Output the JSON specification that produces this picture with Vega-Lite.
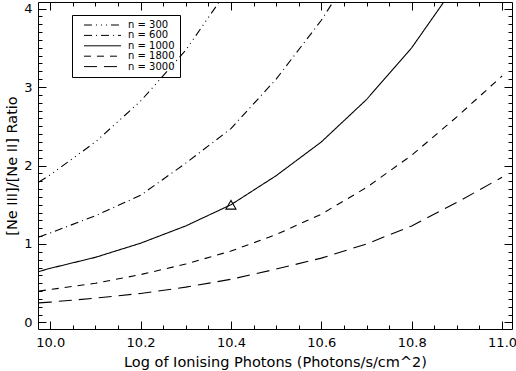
{
  "$schema": "https://vega.github.io/schema/vega-lite/v6.json",
  "width": 474,
  "height": 327,
  "autosize": "none",
  "padding": {"left": 38, "top": 2, "right": 4, "bottom": 42},
  "background": "white",
  "config": {
    "view": {"stroke": "black", "strokeWidth": 1},
    "font": "DejaVu Sans",
    "axis": {"grid": false, "domain": false, "labelColor": "black", "titleColor": "black", "tickColor": "black", "labelFont": "DejaVu Sans", "titleFont": "DejaVu Sans", "titleFontWeight": "normal", "labelFontSize": 13, "titleFontSize": 14.5, "tickWidth": 1},
    "legend": {"orient": "none", "legendX": 34, "legendY": 13, "strokeColor": "black", "padding": 5, "symbolOffset": 0, "symbolType": "M0.44,0H8.67", "symbolSize": 81, "symbolStrokeWidth": 1, "symbolStrokeColor": "black", "labelFont": "DejaVu Sans", "labelFontSize": 10, "labelColor": "black", "labelOffset": 41, "rowPadding": 0.4, "title": null}
  },
  "datasets": {
    "curves": [
      {"series": "n = 300", "x": 9.975, "y": 1.79},
      {"series": "n = 300", "x": 10.0, "y": 1.88},
      {"series": "n = 300", "x": 10.1, "y": 2.30},
      {"series": "n = 300", "x": 10.2, "y": 2.82},
      {"series": "n = 300", "x": 10.3, "y": 3.47},
      {"series": "n = 300", "x": 10.4, "y": 4.30},
      {"series": "n = 300", "x": 10.5, "y": 5.30},
      {"series": "n = 600", "x": 9.975, "y": 1.09},
      {"series": "n = 600", "x": 10.0, "y": 1.14},
      {"series": "n = 600", "x": 10.1, "y": 1.36},
      {"series": "n = 600", "x": 10.2, "y": 1.62},
      {"series": "n = 600", "x": 10.3, "y": 2.03},
      {"series": "n = 600", "x": 10.4, "y": 2.47},
      {"series": "n = 600", "x": 10.5, "y": 3.10},
      {"series": "n = 600", "x": 10.6, "y": 3.85},
      {"series": "n = 600", "x": 10.7, "y": 4.75},
      {"series": "n = 1000", "x": 9.975, "y": 0.65},
      {"series": "n = 1000", "x": 10.0, "y": 0.69},
      {"series": "n = 1000", "x": 10.1, "y": 0.83},
      {"series": "n = 1000", "x": 10.2, "y": 1.01},
      {"series": "n = 1000", "x": 10.3, "y": 1.23},
      {"series": "n = 1000", "x": 10.4, "y": 1.50},
      {"series": "n = 1000", "x": 10.5, "y": 1.87},
      {"series": "n = 1000", "x": 10.6, "y": 2.30},
      {"series": "n = 1000", "x": 10.7, "y": 2.84},
      {"series": "n = 1000", "x": 10.8, "y": 3.50},
      {"series": "n = 1000", "x": 10.9, "y": 4.32},
      {"series": "n = 1000", "x": 11.0, "y": 5.30},
      {"series": "n = 1800", "x": 9.975, "y": 0.40},
      {"series": "n = 1800", "x": 10.0, "y": 0.42},
      {"series": "n = 1800", "x": 10.1, "y": 0.50},
      {"series": "n = 1800", "x": 10.2, "y": 0.61},
      {"series": "n = 1800", "x": 10.3, "y": 0.745},
      {"series": "n = 1800", "x": 10.4, "y": 0.91},
      {"series": "n = 1800", "x": 10.5, "y": 1.12},
      {"series": "n = 1800", "x": 10.6, "y": 1.38},
      {"series": "n = 1800", "x": 10.7, "y": 1.72},
      {"series": "n = 1800", "x": 10.8, "y": 2.13},
      {"series": "n = 1800", "x": 10.9, "y": 2.62},
      {"series": "n = 1800", "x": 11.0, "y": 3.14},
      {"series": "n = 3000", "x": 9.975, "y": 0.25},
      {"series": "n = 3000", "x": 10.0, "y": 0.26},
      {"series": "n = 3000", "x": 10.1, "y": 0.31},
      {"series": "n = 3000", "x": 10.2, "y": 0.37},
      {"series": "n = 3000", "x": 10.3, "y": 0.45},
      {"series": "n = 3000", "x": 10.4, "y": 0.55},
      {"series": "n = 3000", "x": 10.5, "y": 0.68},
      {"series": "n = 3000", "x": 10.6, "y": 0.82},
      {"series": "n = 3000", "x": 10.7, "y": 1.00},
      {"series": "n = 3000", "x": 10.8, "y": 1.23},
      {"series": "n = 3000", "x": 10.9, "y": 1.53},
      {"series": "n = 3000", "x": 11.0, "y": 1.85}
    ],
    "marker": [{"x": 10.4, "y": 1.5}]
  },
  "layer": [
    {
      "data": {"name": "curves"},
      "mark": {"type": "line", "clip": true, "color": "black", "strokeWidth": 1.1},
      "encoding": {
        "x": {"field": "x", "type": "quantitative", "scale": {"domain": [9.973, 11.022], "nice": false, "zero": false},
          "axis": {"orient": "bottom", "values": [10.0, 10.2, 10.4, 10.6, 10.8, 11.0], "format": ".1f", "ticks": false, "labelPadding": 7, "title": "Log of Ionising Photons (Photons/s/cm^2)", "titlePadding": 6}},
        "y": {"field": "y", "type": "quantitative", "scale": {"domain": [-0.083, 4.083], "nice": false, "zero": false},
          "axis": {"orient": "left", "values": [0, 1, 2, 3, 4], "format": "d", "ticks": false, "labelPadding": 6, "title": "[Ne III]/[Ne II] Ratio", "titlePadding": 4}},
        "strokeDash": {"field": "series", "type": "nominal",
          "scale": {"domain": ["n = 300", "n = 600", "n = 1000", "n = 1800", "n = 3000"],
                    "range": [[8, 4, 1, 4, 1, 4, 1, 4], [8, 4, 1, 4], [1, 0], [7, 6], [13, 7]]},
          "legend": {}}
      }
    },
    {
      "data": {"name": "marker"},
      "mark": {"type": "point", "shape": "triangle-up", "filled": false, "color": "black", "size": 100, "strokeWidth": 1.1, "opacity": 1},
      "encoding": {
        "x": {"field": "x", "type": "quantitative", "axis": {"orient": "bottom", "values": [10.0, 10.2, 10.4, 10.6, 10.8, 11.0], "labels": false, "title": null, "tickSize": -8}},
        "y": {"field": "y", "type": "quantitative", "axis": {"orient": "left", "values": [0, 1, 2, 3, 4], "labels": false, "title": null, "tickSize": -8}}
      }
    },
    {
      "data": {"name": "marker"},
      "mark": {"type": "point", "opacity": 0},
      "encoding": {
        "x": {"field": "x", "type": "quantitative", "axis": {"orient": "bottom", "values": [10.0, 10.05, 10.1, 10.15, 10.2, 10.25, 10.3, 10.35, 10.4, 10.45, 10.5, 10.55, 10.6, 10.65, 10.7, 10.75, 10.8, 10.85, 10.9, 10.95, 11.0], "labels": false, "title": null, "tickSize": -4}},
        "y": {"field": "y", "type": "quantitative", "axis": {"orient": "left", "values": [0, 0.1, 0.2, 0.3, 0.4, 0.5, 0.6, 0.7, 0.8, 0.9, 1, 1.1, 1.2, 1.3, 1.4, 1.5, 1.6, 1.7, 1.8, 1.9, 2, 2.1, 2.2, 2.3, 2.4, 2.5, 2.6, 2.7, 2.8, 2.9, 3, 3.1, 3.2, 3.3, 3.4, 3.5, 3.6, 3.7, 3.8, 3.9, 4], "labels": false, "title": null, "tickSize": -4}}
      }
    },
    {
      "data": {"name": "marker"},
      "mark": {"type": "point", "opacity": 0},
      "encoding": {
        "x": {"field": "x", "type": "quantitative", "axis": {"orient": "top", "values": [10.0, 10.2, 10.4, 10.6, 10.8, 11.0], "labels": false, "title": null, "tickSize": -8}},
        "y": {"field": "y", "type": "quantitative", "axis": {"orient": "right", "values": [0, 1, 2, 3, 4], "labels": false, "title": null, "tickSize": -8}}
      }
    },
    {
      "data": {"name": "marker"},
      "mark": {"type": "point", "opacity": 0},
      "encoding": {
        "x": {"field": "x", "type": "quantitative", "axis": {"orient": "top", "values": [10.0, 10.05, 10.1, 10.15, 10.2, 10.25, 10.3, 10.35, 10.4, 10.45, 10.5, 10.55, 10.6, 10.65, 10.7, 10.75, 10.8, 10.85, 10.9, 10.95, 11.0], "labels": false, "title": null, "tickSize": -4}},
        "y": {"field": "y", "type": "quantitative", "axis": {"orient": "right", "values": [0, 0.1, 0.2, 0.3, 0.4, 0.5, 0.6, 0.7, 0.8, 0.9, 1, 1.1, 1.2, 1.3, 1.4, 1.5, 1.6, 1.7, 1.8, 1.9, 2, 2.1, 2.2, 2.3, 2.4, 2.5, 2.6, 2.7, 2.8, 2.9, 3, 3.1, 3.2, 3.3, 3.4, 3.5, 3.6, 3.7, 3.8, 3.9, 4], "labels": false, "title": null, "tickSize": -4}}
      }
    }
  ],
  "resolve": {"axis": {"x": "independent", "y": "independent"}}
}
